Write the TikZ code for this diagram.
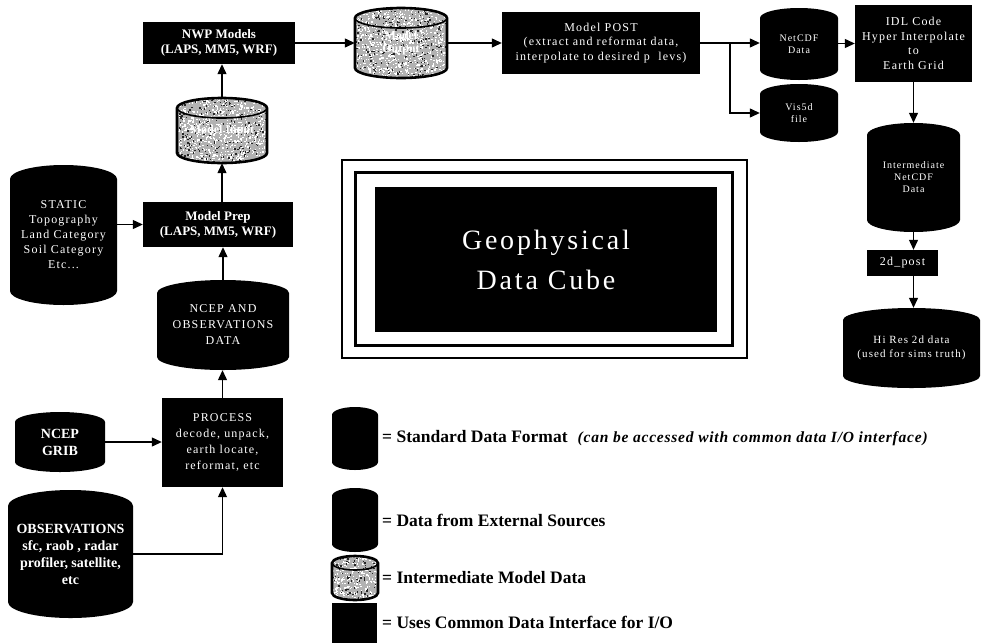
\documentclass[tikz,border=0pt]{standalone}
\usepackage{fontspec}
\setmainfont{Liberation Serif}
\newfontfamily\spc[LetterSpace=10]{Liberation Serif}
\newfontfamily\spcit[LetterSpace=5]{Liberation Serif}
\usetikzlibrary{arrows.meta}
% black cylinder: name, left, top, right, bottom, ry, font, text
\newcommand\drum[8]{%
  \path[fill=black] (#2,#3+#6) arc[start angle=180,end angle=0,x radius={(#4-#2)/2*1pt},y radius={#6*1pt}]
     -- (#4,#5-#6) arc[start angle=0,end angle=-180,x radius={(#4-#2)/2*1pt},y radius={#6*1pt}] -- cycle;
  \node[drumtext,font=#7,minimum width={(#4-#2)*1pt},minimum height={(#5-#3)*1pt}] (#1) at ({(#2+#4)/2},{(#3+#5)/2}) {#8};
}
% speckled cylinder: name, left, top, right, bottom, ry, text
\newcommand\tdrum[7]{%
  \pgfmathtruncatemacro\nwhite{(#4-#2)*(#5-#3)/8}%
  \pgfmathtruncatemacro\nblack{(#4-#2)*(#5-#3)/24}%
  \begin{scope}
    \clip (#2,#3+#6) arc[start angle=180,end angle=0,x radius={(#4-#2)/2*1pt},y radius={#6*1pt}]
       -- (#4,#5-#6) arc[start angle=0,end angle=-180,x radius={(#4-#2)/2*1pt},y radius={#6*1pt}] -- cycle;
    \fill[gray!60] (#2,#3) rectangle (#4,#5);
    \foreach \k in {1,...,\nwhite}{\fill[white] ({#2+rnd*(#4-#2)},{#3+rnd*(#5-#3)}) rectangle ++(1.3,1.3);}
    \foreach \k in {1,...,\nblack}{\fill[black!85] ({#2+rnd*(#4-#2)},{#3+rnd*(#5-#3)}) rectangle ++(1.3,1.3);}
  \end{scope}
  \draw[line width=2.6pt] (#2,#3+#6) arc[start angle=180,end angle=0,x radius={(#4-#2)/2*1pt},y radius={#6*1pt}]
     -- (#4,#5-#6) arc[start angle=0,end angle=-180,x radius={(#4-#2)/2*1pt},y radius={#6*1pt}] -- cycle;
  \draw[line width=1.6pt] (#2,#3+#6) arc[start angle=180,end angle=360,x radius={(#4-#2)/2*1pt},y radius={#6*1pt}];
  \node[drumtext,font=\bfseries\fontsize{12}{13}\selectfont,minimum width={(#4-#2)*1pt},minimum height={(#5-#3)*1pt}] (#1) at ({(#2+#4)/2},{(#3+#5)/2}) {#7};
}
\begin{document}
\begin{tikzpicture}[x=1pt,y=-1pt,
  arr/.style={-{Triangle[length=10pt,width=9pt]},line width=1.2pt},
  bbox/.style={fill=black,text=white,align=center,inner sep=0pt,font=\bfseries\fontsize{13}{15}\selectfont},
  tbox/.style={fill=black,text=white,align=center,inner sep=0pt,font=\spc\fontsize{12}{14.5}\selectfont},
  drumtext/.style={text=white,align=center,inner sep=0pt},
  legtext/.style={anchor=west,inner sep=0pt,font=\bfseries\fontsize{17.5}{19}\selectfont}]
\pgfmathsetseed{7}
\fill[white] (0,0) rectangle (981,643);
\useasboundingbox (0,0) rectangle (981,643);

% top row
\node[bbox,minimum width=152,minimum height=42] (nwp) at (219,43) {NWP Models\\(LAPS, MM5, WRF)};
\tdrum{mout}{355}{8}{447}{78}{10}{Model\\Output}
\node[tbox,minimum width=198,minimum height=62] (post) at (601,43) {Model POST\\(extract and reformat data,\\interpolate to desired p\ \ levs)};
\drum{ncdf}{760}{8}{838}{80}{10}{\spc\fontsize{10}{12}\selectfont}{NetCDF\\Data}
\drum{vis}{760}{84}{838}{142}{10}{\spc\fontsize{10}{12}\selectfont}{Vis5d\\file}
\node[tbox,minimum width=117,minimum height=77] (idl) at (913.5,43.5) {IDL Code\\Hyper Interpolate\\to\\Earth Grid};
\drum{inter}{867}{123}{960}{232}{12}{\spc\fontsize{10}{12}\selectfont}{Intermediate\\NetCDF\\Data}
\node[tbox,minimum width=71,minimum height=26] (dpost) at (902.5,263) {2d\_post};
\drum{hires}{843}{308}{980}{388}{12}{\spc\fontsize{11}{14}\selectfont}{Hi Res 2d data\\(used for sims truth)}

% left column
\tdrum{mi}{177}{98}{267}{163}{10}{Model Input}
\node[bbox,minimum width=150,minimum height=45] (prep) at (218,224.5) {Model Prep\\(LAPS, MM5, WRF)};
\drum{static}{10}{165}{117}{305}{14}{\spc\fontsize{12}{15}\selectfont}{STATIC\\Topography\\Land Category\\Soil Category\\Etc...}
\drum{no}{157}{280}{289}{370}{13}{\spc\fontsize{12}{16}\selectfont}{NCEP AND\\OBSERVATIONS\\DATA}
\node[tbox,minimum width=121,minimum height=89,font=\spc\fontsize{12}{16}\selectfont] (proc) at (222.5,442.5) {PROCESS\\decode, unpack,\\earth locate,\\reformat, etc};
\drum{grib}{15}{412}{105}{472}{10}{\bfseries\fontsize{14}{17}\selectfont}{NCEP\\GRIB}
\drum{obs}{8}{490}{133}{618}{16}{\bfseries\fontsize{14}{17}\selectfont}{OBSERVATIONS\\sfc, raob , radar\\profiler, satellite,\\etc}

% central block
\node[draw,line width=2pt,minimum width=405,minimum height=198,inner sep=0pt] (cubeouter) at (544.5,259) {};
\node[draw,line width=3pt,minimum width=377,minimum height=173,inner sep=0pt] (cubeinner) at (543.5,258.5) {};
\node[fill=black,text=white,align=center,inner sep=0pt,minimum width=342,minimum height=145,
      font=\spc\fontsize{28}{40}\selectfont] (cube) at (546,259.5) {Geophysical\\Data Cube};

% connectors
\draw[arr] (nwp.east) -- (mout.west);
\draw[arr] (mout.east) -- (post.west);
\coordinate (br) at (730,43);
\draw[arr] (post.east) -- (post.east -| ncdf.west);
\draw[arr] (br) |- (vis.west);
\draw[arr] (idl.west -| ncdf.east) -- (idl.west);
\draw[arr] (idl.south) -- (idl.south |- inter.north);
\draw[arr] (inter.south) -- (inter.south |- dpost.north);
\draw[arr] (inter.south |- dpost.south) -- (inter.south |- hires.north);
\draw[arr] (mi.north) -- (mi.north |- nwp.south);
\draw[arr] (mi.south |- prep.north) -- (mi.south);
\draw[arr] (static.east |- prep.west) -- (prep.west);
\draw[arr] (no.north) -- (no.north |- prep.south);
\draw[arr] (proc.north) -- (proc.north |- no.south);
\draw[arr] (grib.east) -- (grib.east -| proc.west);
\draw[arr] (obs.east) -| (proc.south);

% legend
\drum{lg1}{332}{407}{378}{470}{8}{}{}
\node[legtext] (lt1) at (382,438) {= Standard Data Format\hspace{10pt}{\spcit\bfseries\itshape\fontsize{15.5}{17}\selectfont(can be accessed with common data I/O interface)}};
\drum{lg2}{332}{488}{378}{552}{8}{}{}
\node[legtext] (lt2) at (382,520) {= Data from External Sources};
\tdrum{lg3}{332}{556}{378}{600}{7}{}
\node[legtext] (lt3) at (382,578) {= Intermediate Model Data};
\node[fill=black,minimum width=45,minimum height=40,inner sep=0pt] (lg4) at (354.5,623) {};
\node[legtext] (lt4) at (382,622) {= Uses Common Data Interface for I/O};
\end{tikzpicture}
\end{document}
